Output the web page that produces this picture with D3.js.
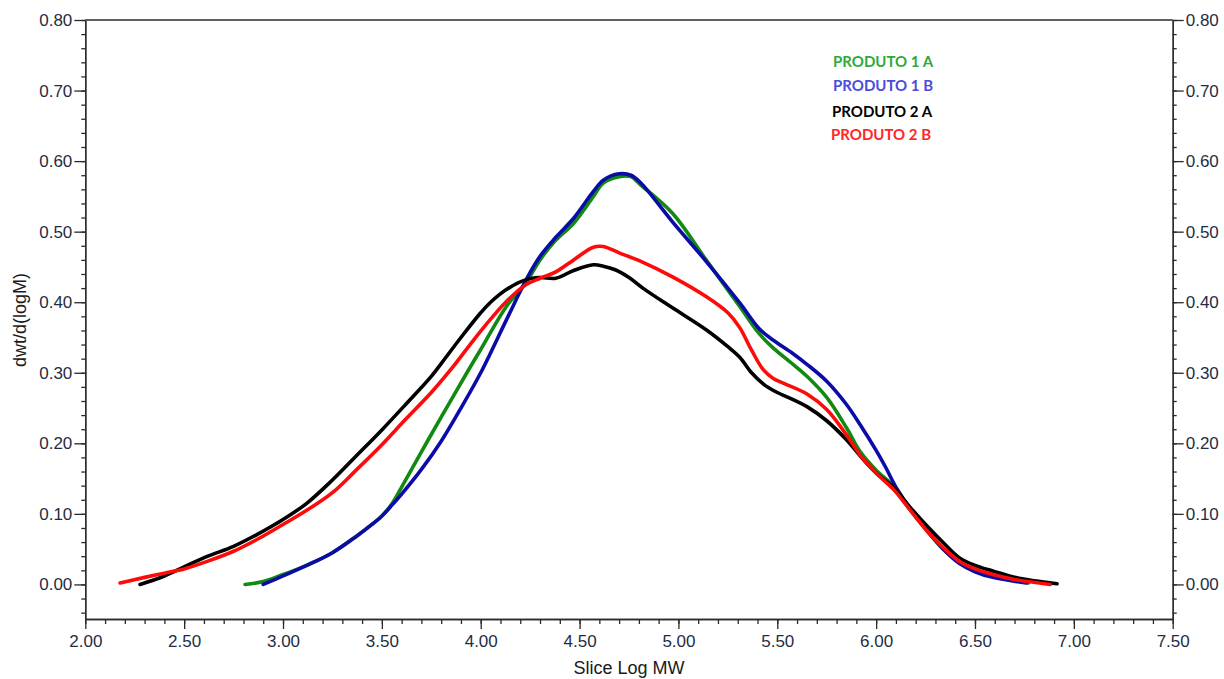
<!DOCTYPE html>
<html>
<head>
<meta charset="utf-8">
<script src="https://cdn.jsdelivr.net/npm/d3@7/dist/d3.min.js"></script>
<style>
  html, body { margin: 0; padding: 0; background: #fff; }
  svg { display: block; }
</style>
</head>
<body>
<svg id="chart" width="1224" height="679"></svg>
<script>
// ---- Data ----
const seriesNames = ["PRODUTO 1 A", "PRODUTO 1 B", "PRODUTO 2 A", "PRODUTO 2 B"];

const p1aX = [2.808, 2.90, 3.00, 3.12, 3.25, 3.37, 3.45, 3.50, 3.55, 3.60, 3.70, 3.80, 3.93, 4.00, 4.13, 4.23, 4.30, 4.38, 4.47, 4.57, 4.62, 4.70, 4.76, 4.81, 4.97, 5.14, 5.31, 5.41, 5.48, 5.58, 5.65, 5.75, 5.85, 5.92, 6.00, 6.10, 6.17, 6.26, 6.34, 6.42, 6.50, 6.59, 6.77];
const p1aY = [0.000, 0.004, 0.014, 0.027, 0.045, 0.068, 0.085, 0.097, 0.114, 0.138, 0.188, 0.237, 0.300, 0.333, 0.394, 0.428, 0.460, 0.488, 0.512, 0.550, 0.569, 0.578, 0.578, 0.566, 0.526, 0.460, 0.394, 0.355, 0.335, 0.312, 0.295, 0.265, 0.222, 0.188, 0.162, 0.136, 0.107, 0.075, 0.050, 0.031, 0.020, 0.012, 0.002];

const p1bX = [2.90, 3.00, 3.12, 3.25, 3.37, 3.45, 3.50, 3.55, 3.60, 3.70, 3.80, 3.90, 4.00, 4.13, 4.23, 4.30, 4.38, 4.47, 4.57, 4.62, 4.70, 4.76, 4.81, 4.97, 5.14, 5.31, 5.41, 5.48, 5.58, 5.65, 5.75, 5.85, 5.92, 6.00, 6.05, 6.10, 6.17, 6.26, 6.34, 6.42, 6.50, 6.59, 6.76];
const p1bY = [0.000, 0.012, 0.027, 0.045, 0.068, 0.085, 0.097, 0.112, 0.128, 0.163, 0.203, 0.250, 0.300, 0.375, 0.432, 0.465, 0.492, 0.519, 0.557, 0.573, 0.582, 0.580, 0.569, 0.514, 0.458, 0.399, 0.362, 0.346, 0.327, 0.312, 0.288, 0.255, 0.226, 0.190, 0.165, 0.138, 0.108, 0.076, 0.050, 0.030, 0.018, 0.010, 0.002];

const p2aX = [2.277, 2.40, 2.50, 2.62, 2.75, 2.87, 3.00, 3.12, 3.25, 3.37, 3.50, 3.62, 3.75, 3.80, 3.90, 4.00, 4.05, 4.13, 4.23, 4.30, 4.38, 4.47, 4.57, 4.62, 4.68, 4.75, 4.82, 4.97, 5.14, 5.25, 5.31, 5.37, 5.43, 5.50, 5.58, 5.65, 5.75, 5.85, 5.92, 6.00, 6.09, 6.17, 6.26, 6.34, 6.42, 6.50, 6.59, 6.70, 6.80, 6.915];
const p2aY = [0.000, 0.012, 0.025, 0.040, 0.054, 0.071, 0.092, 0.115, 0.148, 0.182, 0.219, 0.255, 0.295, 0.313, 0.350, 0.385, 0.400, 0.418, 0.432, 0.435, 0.434, 0.445, 0.453, 0.451, 0.446, 0.435, 0.420, 0.392, 0.361, 0.337, 0.322, 0.300, 0.284, 0.272, 0.262, 0.252, 0.232, 0.205, 0.182, 0.158, 0.137, 0.110, 0.082, 0.059, 0.038, 0.027, 0.019, 0.010, 0.005, 0.001];

const p2bX = [2.176, 2.30, 2.40, 2.50, 2.62, 2.75, 2.87, 3.00, 3.12, 3.25, 3.37, 3.50, 3.62, 3.75, 3.85, 3.96, 4.05, 4.13, 4.23, 4.30, 4.38, 4.47, 4.57, 4.62, 4.70, 4.81, 4.97, 5.14, 5.25, 5.31, 5.37, 5.43, 5.48, 5.55, 5.65, 5.75, 5.85, 5.92, 6.00, 6.09, 6.17, 6.26, 6.34, 6.42, 6.50, 6.59, 6.70, 6.88];
const p2bY = [0.002, 0.010, 0.016, 0.022, 0.033, 0.047, 0.064, 0.085, 0.105, 0.130, 0.162, 0.198, 0.234, 0.272, 0.305, 0.345, 0.376, 0.401, 0.425, 0.434, 0.443, 0.460, 0.478, 0.479, 0.470, 0.458, 0.436, 0.408, 0.385, 0.364, 0.332, 0.304, 0.292, 0.283, 0.270, 0.248, 0.212, 0.183, 0.158, 0.134, 0.106, 0.075, 0.052, 0.033, 0.022, 0.014, 0.007, 0.000];

const xTickValues = [2.0, 2.5, 3.0, 3.5, 4.0, 4.5, 5.0, 5.5, 6.0, 6.5, 7.0, 7.5];
const yTickValues = [0.0, 0.1, 0.2, 0.3, 0.4, 0.5, 0.6, 0.7, 0.8];
const xTitle = "Slice Log MW";
const yTitle = "dwt/d(logM)";

const lineColors = ["#118a11", "#0b0ba8", "#000000", "#ff0a0a"];
const legendColors = ["#2eaa3c", "#4b4bdc", "#000000", "#ff2626"];

// ---- Layout ----
const svg = d3.select("#chart");
const plotL = 85.3, plotR = 1172.7, plotT = 20, plotB = 619;
const x = d3.scaleLinear().domain([2.0, 7.5]).range([plotL, plotR]);
const y = d3.scaleLinear().domain([-0.049, 0.80]).range([plotB, plotT]);

const tickColor = "#2a2a2a";
const labelColor = "#1f2d44";
const fontFam = "'Liberation Sans', Arial, sans-serif";

const fmt = d3.format(".2f");

const yMinor = d3.range(-0.04, 0.801, 0.02).map(v => +v.toFixed(2));
const leftAxis = svg.append("g").attr("transform", `translate(${plotL},0)`)
  .call(d3.axisLeft(y).tickValues(yTickValues).tickFormat(fmt).tickSize(11).tickSizeOuter(0).tickPadding(2));
const leftMinor = svg.append("g").attr("transform", `translate(${plotL},0)`)
  .call(d3.axisLeft(y).tickValues(yMinor).tickFormat("").tickSize(4).tickSizeOuter(0));

const rightAxis = svg.append("g").attr("transform", `translate(${plotR},0)`)
  .call(d3.axisRight(y).tickValues(yTickValues).tickFormat(fmt).tickSize(11).tickSizeOuter(0).tickPadding(2));
const rightMinor = svg.append("g").attr("transform", `translate(${plotR},0)`)
  .call(d3.axisRight(y).tickValues(yMinor).tickFormat("").tickSize(4).tickSizeOuter(0));

const xMinor = d3.range(2.0, 7.501, 0.1).map(v => +v.toFixed(1));
const bottomAxis = svg.append("g").attr("transform", `translate(0,${plotB})`)
  .call(d3.axisBottom(x).tickValues(xTickValues).tickFormat(fmt).tickSize(10).tickSizeOuter(0).tickPadding(6));
const bottomMinor = svg.append("g").attr("transform", `translate(0,${plotB})`)
  .call(d3.axisBottom(x).tickValues(xMinor).tickFormat("").tickSize(5).tickSizeOuter(0));

[leftAxis, leftMinor, rightAxis, rightMinor, bottomAxis, bottomMinor].forEach(g => {
  g.selectAll("path.domain").attr("stroke", tickColor).attr("stroke-width", 1.3);
  g.selectAll(".tick line").attr("stroke", tickColor).attr("stroke-width", 1.3);
  g.selectAll("text").attr("fill", labelColor).attr("font-family", fontFam).attr("font-size", 17);
});

svg.append("line").attr("x1", plotL).attr("x2", plotR).attr("y1", plotT).attr("y2", plotT)
  .attr("stroke", tickColor).attr("stroke-width", 1.3);

svg.append("text").attr("x", 629).attr("y", 674).attr("text-anchor", "middle")
  .attr("font-family", fontFam).attr("font-size", 18).attr("fill", "#1a1a1a").text(xTitle);
svg.append("text").attr("transform", "translate(26,320) rotate(-90)").attr("text-anchor", "middle")
  .attr("font-family", fontFam).attr("font-size", 18).attr("fill", "#1a1a1a").text(yTitle);

// ---- Lines ----
const allSeries = [
  { xs: p1aX, ys: p1aY },
  { xs: p1bX, ys: p1bY },
  { xs: p2aX, ys: p2aY },
  { xs: p2bX, ys: p2bY }
];
const line = d3.line().x(d => x(d[0])).y(d => y(d[1])).curve(d3.curveCatmullRom.alpha(0.5));
allSeries.forEach((s, i) => {
  const pts = s.xs.map((v, k) => [v, s.ys[k]]);
  svg.append("path").datum(pts).attr("d", line)
    .attr("fill", "none").attr("stroke", lineColors[i]).attr("stroke-width", 3.6)
    .attr("stroke-linejoin", "round").attr("stroke-linecap", "round");
});

// ---- Legend (text only) ----
const legendPos = [[833, 66.5], [833, 90.5], [832, 116.5], [831, 139.5]];
seriesNames.forEach((n, i) => {
  svg.append("text").attr("x", legendPos[i][0]).attr("y", legendPos[i][1])
    .attr("font-family", "Lato, 'Open Sans', sans-serif").attr("font-weight", "bold")
    .attr("font-size", 15).attr("fill", legendColors[i]).text(n);
});
</script>
</body>
</html>
